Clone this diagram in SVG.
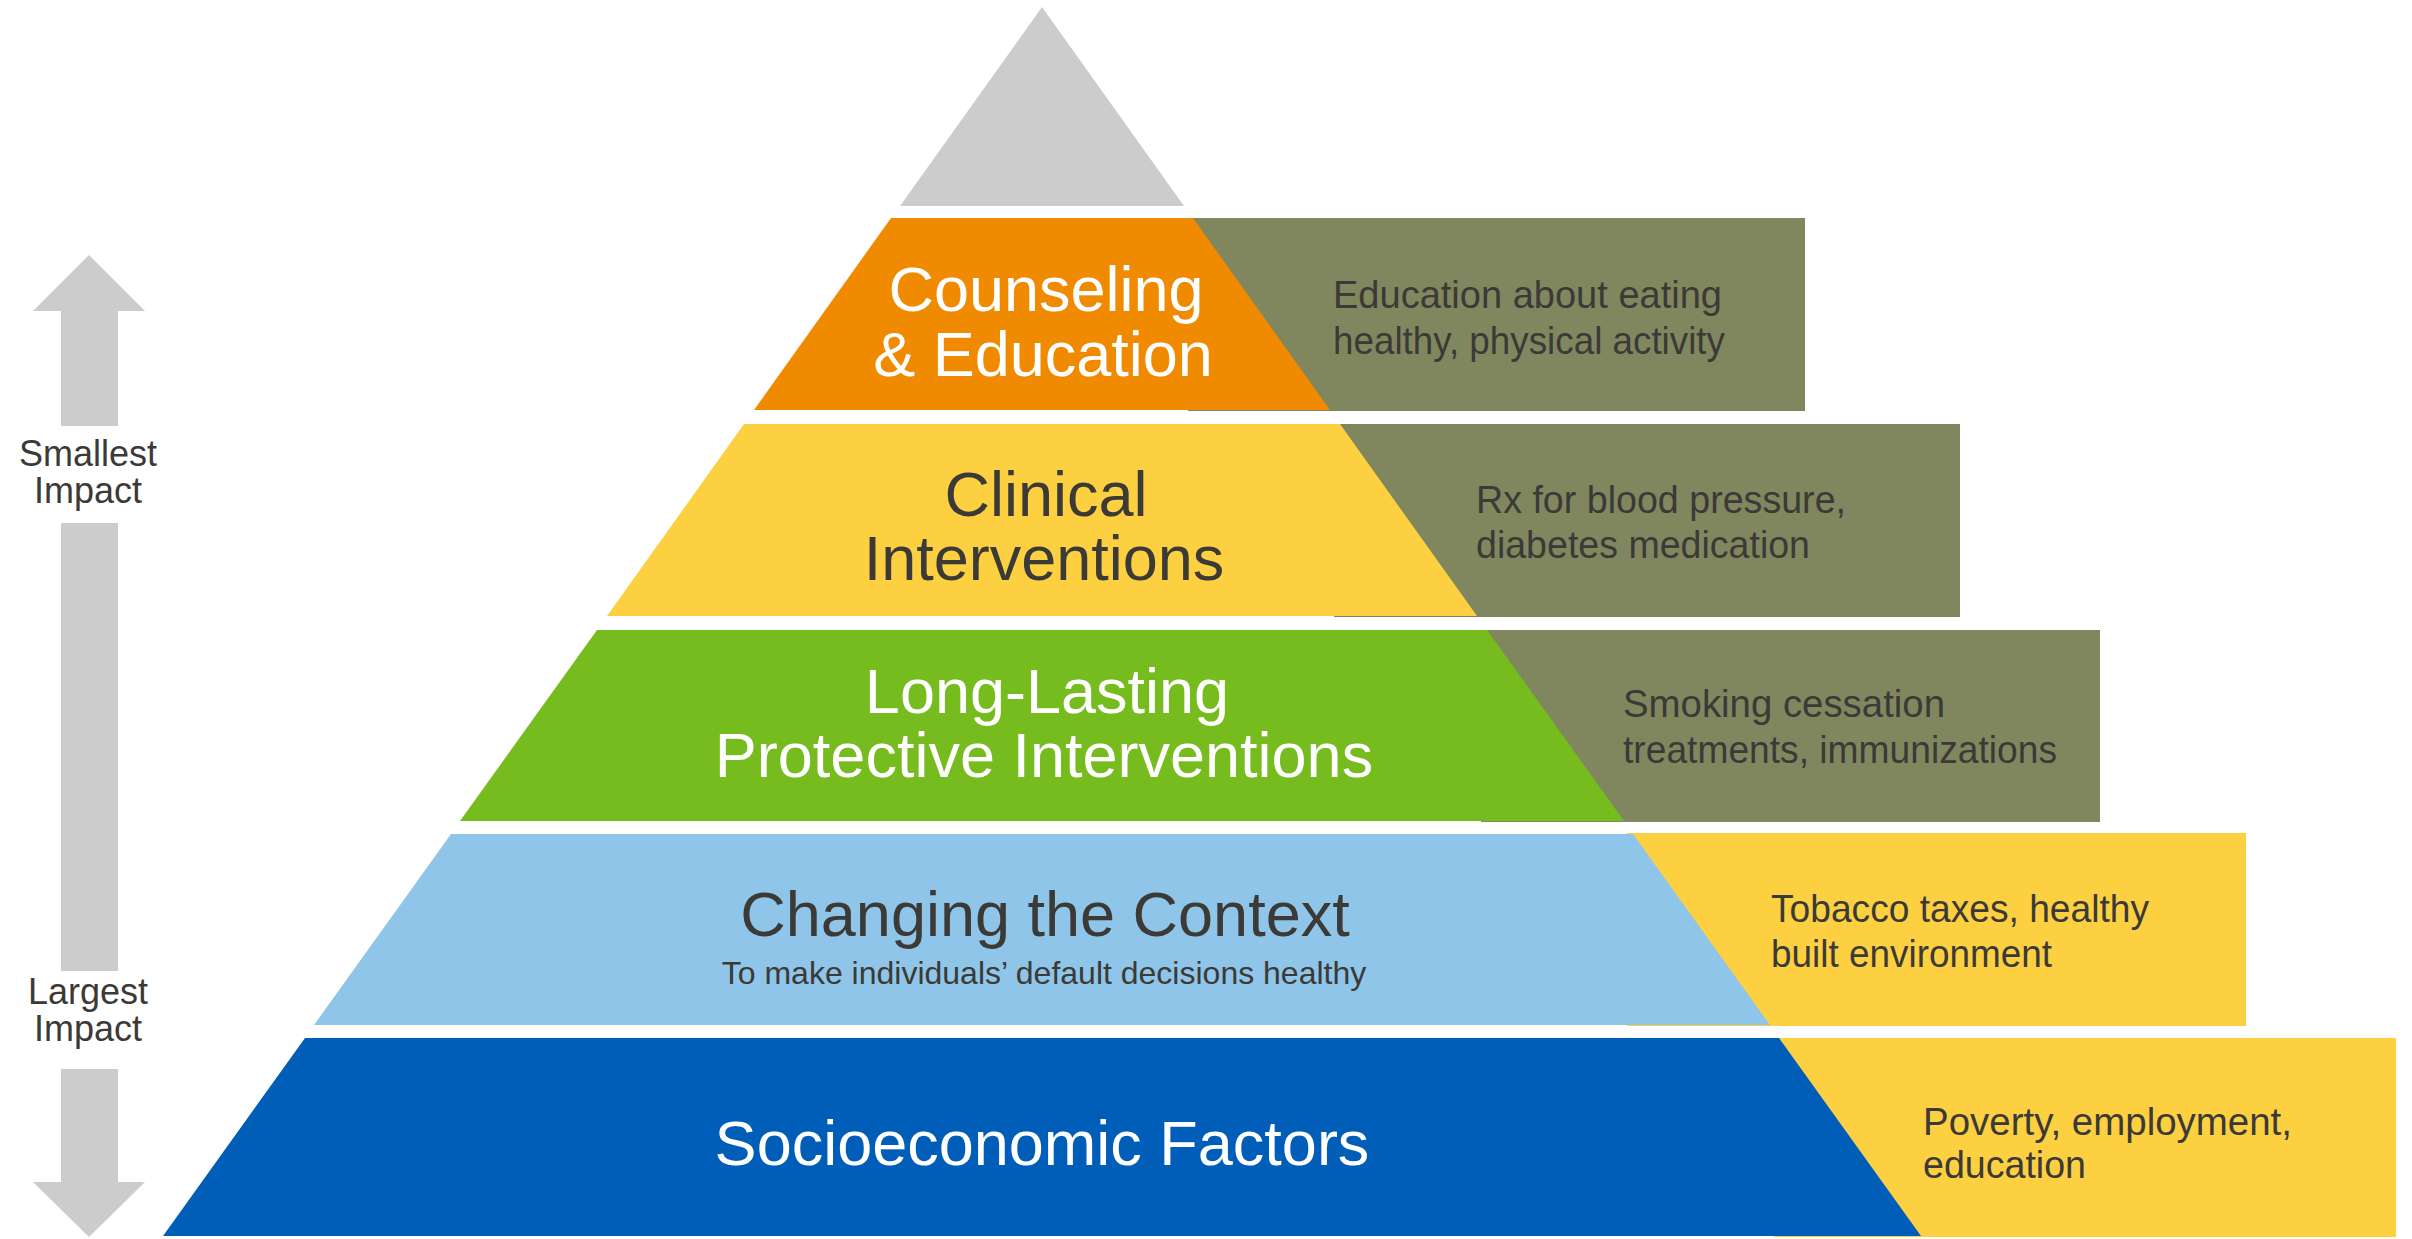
<svg xmlns="http://www.w3.org/2000/svg" width="2412" height="1239" viewBox="0 0 2412 1239">
<style>
  .lbl { font-family: "Liberation Sans", Arial, sans-serif; font-size: 63px; text-anchor: middle; }
  .w { fill: #FFFFFF; }
  .d { fill: #3B3A36; }
  .side { font-family: "Liberation Sans", Arial, sans-serif; font-size: 39px; fill: #3B3A36; }
  .imp { font-family: "Liberation Sans", Arial, sans-serif; font-size: 36px; fill: #3B3A36; text-anchor: middle; }
  .olive { fill: #80875F; }
  .gold { fill: #FDD042; }
  .gray { fill: #CCCCCC; }
</style>
<rect width="2412" height="1239" fill="#FFFFFF"/>

<g id="impact-axis">
  <polygon class="gray" points="89,255 145,311 118,311 118,426 61,426 61,311 33,311"/>
  <rect class="gray" x="61" y="523" width="57" height="448"/>
  <polygon class="gray" points="61,1069 118,1069 118,1182 145,1182 89,1237 33,1182 61,1182"/>
  <text class="imp" x="88" y="466">Smallest</text>
  <text class="imp" x="88" y="503">Impact</text>
  <text class="imp" x="88" y="1004">Largest</text>
  <text class="imp" x="88" y="1041">Impact</text>
</g>

<g id="apex">
  <polygon class="gray" points="1042,7 1184,206 900,206"/>
</g>

<g id="level-counseling">
  <rect class="olive" x="1188" y="218" width="617" height="193"/>
  <polygon fill="#F08A00" points="891,218 1193,218 1330,410 754,410"/>
  <text class="lbl w" x="1046" y="311">Counseling</text>
  <text class="lbl w" x="1043" y="376">&amp; Education</text>
  <text class="side" x="1333" y="308" textLength="389" lengthAdjust="spacingAndGlyphs">Education  about eating</text>
  <text class="side" x="1333" y="354" textLength="392" lengthAdjust="spacingAndGlyphs">healthy, physical activity</text>
</g>

<g id="level-clinical">
  <rect class="olive" x="1334" y="424" width="626" height="193"/>
  <polygon fill="#FDD042" points="744,424 1340,424 1477,616 607,616"/>
  <text class="lbl d" x="1046" y="516">Clinical</text>
  <text class="lbl d" x="1044" y="580">Interventions</text>
  <text class="side" x="1476" y="513" textLength="370" lengthAdjust="spacingAndGlyphs">Rx for blood pressure,</text>
  <text class="side" x="1476" y="558" textLength="334" lengthAdjust="spacingAndGlyphs">diabetes medication</text>
</g>

<g id="level-protective">
  <rect class="olive" x="1481" y="630" width="619" height="192"/>
  <polygon fill="#77BC1F" points="597,630 1487,630 1624,821 460,821"/>
  <text class="lbl w" x="1047" y="713">Long-Lasting</text>
  <text class="lbl w" x="1044" y="777">Protective Interventions</text>
  <text class="side" x="1623" y="717" textLength="322" lengthAdjust="spacingAndGlyphs">Smoking  cessation</text>
  <text class="side" x="1623" y="763" textLength="434" lengthAdjust="spacingAndGlyphs">treatments, immunizations</text>
</g>

<g id="level-context">
  <rect class="gold" x="1627" y="833" width="619" height="193"/>
  <polygon fill="#8EC5E8" points="451,834 1633,834 1770,1025 314,1025"/>
  <text class="lbl d" x="1045" y="936">Changing the Context</text>
  <text class="d" x="1044" y="984" font-family="Liberation Sans, Arial, sans-serif" font-size="32" text-anchor="middle">To make individuals’ default decisions healthy</text>
  <text class="side" x="1771" y="922" textLength="378" lengthAdjust="spacingAndGlyphs">Tobacco taxes, healthy</text>
  <text class="side" x="1771" y="967" textLength="281" lengthAdjust="spacingAndGlyphs">built environment</text>
</g>

<g id="level-socioeconomic">
  <rect class="gold" x="1774" y="1038" width="622" height="199"/>
  <polygon fill="#005EB8" points="305,1038 1779,1038 1921,1236 163,1236"/>
  <text class="lbl w" x="1042" y="1165">Socioeconomic Factors</text>
  <text class="side" x="1923" y="1135" textLength="369" lengthAdjust="spacingAndGlyphs">Poverty, employment,</text>
  <text class="side" x="1923" y="1178" textLength="163" lengthAdjust="spacingAndGlyphs">education</text>
</g>

<g id="connectors"></g>
</svg>
